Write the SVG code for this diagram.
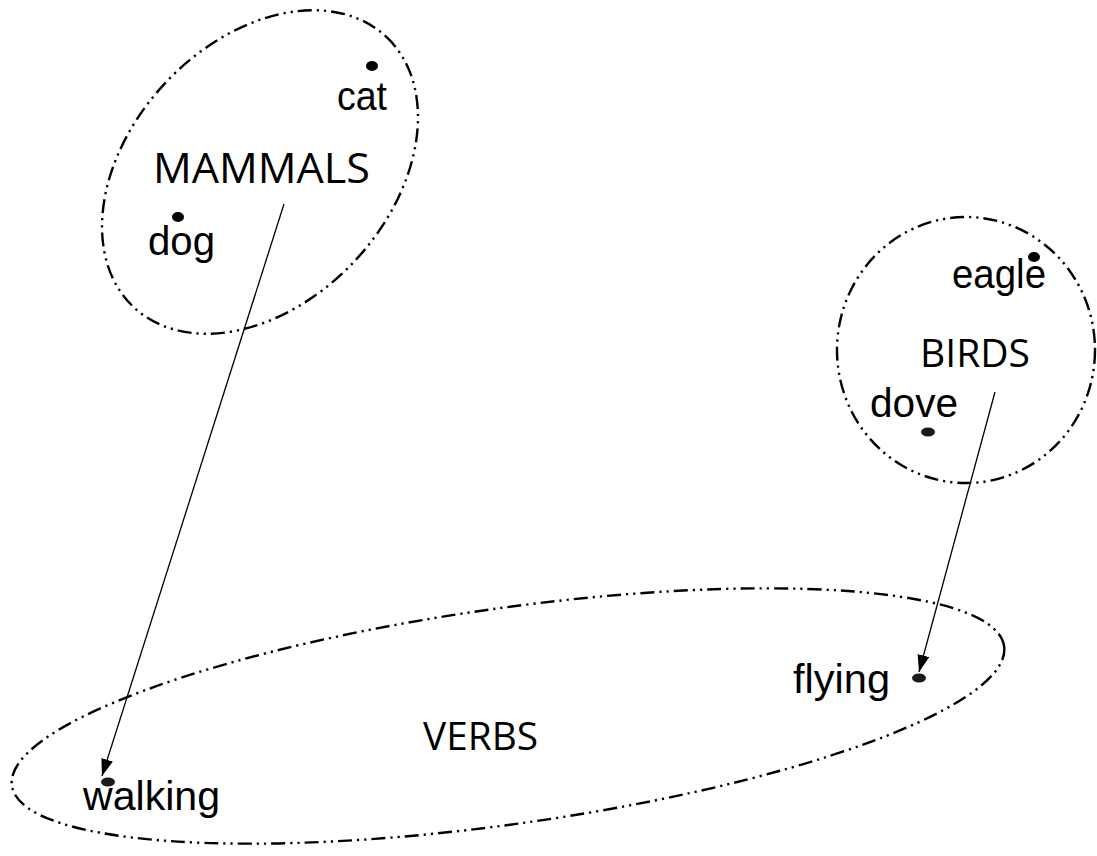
<svg xmlns="http://www.w3.org/2000/svg" width="1097" height="856" viewBox="0 0 1097 856">
<style>
.set{fill:none;stroke:#000;stroke-width:2.4;stroke-dasharray:14 5 2.2 5 2.2 5}
.lbl{font-family:"Liberation Sans",Arial,sans-serif;font-size:40px;fill:#000}
.ttl{font-family:"Open Sans","Noto Sans",sans-serif;fill:#000}
.dot{fill:#000}
.hdot{fill:#1a1a1a}
.conn{stroke:#000;stroke-width:1.3;fill:none}
</style>
<defs>
<marker id="ah" markerUnits="userSpaceOnUse" markerWidth="20" markerHeight="14" refX="17" refY="6" orient="auto">
<path d="M0,0 L17,6 L0,12 Z" fill="#000"/>
</marker>
</defs>
<rect width="1097" height="856" fill="#fff"/>
<g id="mammals">
<ellipse class="set" cx="260" cy="172" rx="185" ry="130" transform="rotate(-47 260 172)"/>
<text class="ttl" x="153" y="183" font-size="42" textLength="217" lengthAdjust="spacingAndGlyphs">MAMMALS</text>
</g>
<g id="cat">
<ellipse class="dot" cx="372" cy="66" rx="6" ry="5"/>
<text class="lbl" x="337" y="110" textLength="50" lengthAdjust="spacingAndGlyphs">cat</text>
</g>
<g id="dog">
<ellipse class="dot" cx="178" cy="217" rx="6" ry="5"/>
<text class="lbl" x="148" y="255" textLength="67" lengthAdjust="spacingAndGlyphs">dog</text>
</g>
<g id="birds">
<ellipse class="set" cx="966" cy="350" rx="129" ry="133"/>
<text class="ttl" x="920" y="367" font-size="38" textLength="110" lengthAdjust="spacingAndGlyphs">BIRDS</text>
</g>
<g id="eagle">
<ellipse class="dot" cx="1034" cy="257" rx="6" ry="5"/>
<text class="lbl" x="952" y="288" textLength="94" lengthAdjust="spacingAndGlyphs">eagle</text>
</g>
<g id="dove">
<ellipse class="hdot" cx="928" cy="432" rx="7" ry="4.5"/>
<text class="lbl" x="870" y="417" textLength="88" lengthAdjust="spacingAndGlyphs">dove</text>
</g>
<g id="verbs">
<ellipse class="set" cx="508" cy="716" rx="501" ry="108" transform="rotate(-8 508 716)"/>
<text class="ttl" x="423" y="750" font-size="38" textLength="115" lengthAdjust="spacingAndGlyphs">VERBS</text>
</g>
<g id="walking">
<ellipse class="hdot" cx="108" cy="782" rx="7" ry="4.5"/>
<text class="lbl" x="83" y="810" textLength="137" lengthAdjust="spacingAndGlyphs">walking</text>
</g>
<g id="flying">
<ellipse class="hdot" cx="919" cy="678" rx="7" ry="4.5"/>
<text class="lbl" x="793" y="693" textLength="97" lengthAdjust="spacingAndGlyphs">flying</text>
</g>
<g id="connectors">
<line class="conn" x1="284" y1="204" x2="102" y2="776" marker-end="url(#ah)"/>
<line class="conn" x1="995" y1="392" x2="919" y2="672" marker-end="url(#ah)"/>
</g>
</svg>
